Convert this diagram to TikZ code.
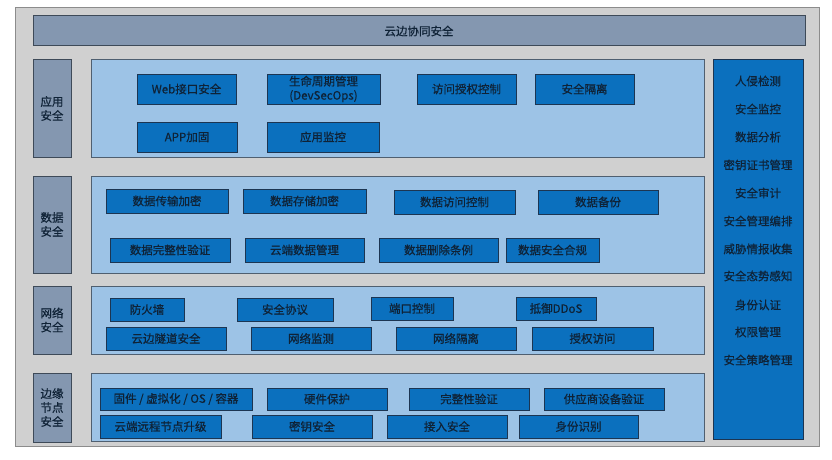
\documentclass[tikz,border=0pt]{standalone}
\usepackage{fontspec}
\setmainfont{Liberation Sans}
\newfontfamily\cjk[FakeBold=0.6]{Noto Sans CJK SC}
\definecolor{outerfill}{HTML}{D0D0D0}
\definecolor{outerdraw}{HTML}{8C8C8C}
\definecolor{slate}{HTML}{8497B0}
\definecolor{slatedraw}{HTML}{3E4A58}
\definecolor{panel}{HTML}{9DC3E6}
\definecolor{paneldraw}{HTML}{4F5F70}
\definecolor{boxfill}{HTML}{0B70BE}
\definecolor{boxdraw}{HTML}{1C3552}
\definecolor{txt}{HTML}{0F2236}
\tikzset{
  base/.style={anchor=north west, inner sep=0pt, outer sep=0pt, align=center, text=txt,
    font=\cjk\fontsize{11.5}{14}\selectfont},
  outerbox/.style={base, fill=outerfill, draw=outerdraw, line width=1pt},
  slatebox/.style={base, fill=slate, draw=slatedraw, line width=1pt},
  panelbox/.style={base, fill=panel, draw=paneldraw, line width=1pt},
  itembox/.style={base, fill=boxfill, draw=boxdraw, line width=1pt},
  sidetext/.style={text=txt, font=\cjk\fontsize{11.5}{14}\selectfont, inner sep=0pt}
}
\newcommand\mybox[7]{\node[#7, minimum width={#4-#2}, minimum height={#5-#3}] (#1) at (#2,#3) {#6};}
\begin{document}
\begin{tikzpicture}[x=1pt,y=-1pt]
\useasboundingbox (0,0) rectangle (832,460);
\fill[white] (0,0) rectangle (832,460);
\mybox{outer}{15}{8}{819}{446}{}{outerbox}
\mybox{title}{33}{16}{805}{46}{云边协同安全}{slatebox}
% left labels
\mybox{lapp}{33}{60}{71}{157}{应用\\安全}{slatebox}
\mybox{ldata}{33}{176}{71}{273}{数据\\安全}{slatebox}
\mybox{lnet}{33}{286}{71}{354}{网络\\安全}{slatebox}
\mybox{ledge}{33}{373}{71}{442}{边缘\\节点\\安全}{slatebox}
% panels
\mybox{papp}{91}{60}{704}{157}{}{panelbox}
\mybox{pdata}{91}{176}{704}{273}{}{panelbox}
\mybox{pnet}{91}{286}{704}{354}{}{panelbox}
\mybox{pedge}{91}{373}{704}{441}{}{panelbox}
% right column
\mybox{right}{713}{60}{803}{439}{}{itembox}
% app
\mybox{a1}{137}{74}{236}{104}{Web接口安全}{itembox}
\mybox{a2}{267}{74}{380}{104}{生命周期管理\\(DevSecOps)}{itembox}
\mybox{a3}{417}{74}{516}{104}{访问授权控制}{itembox}
\mybox{a4}{535}{74}{634}{104}{安全隔离}{itembox}
\mybox{a5}{137}{122}{237}{152}{APP加固}{itembox}
\mybox{a6}{267}{122}{379}{152}{应用监控}{itembox}
% data
\mybox{d1}{106}{189}{228}{213}{数据传输加密}{itembox}
\mybox{d2}{243}{189}{366}{213}{数据存储加密}{itembox}
\mybox{d3}{394}{190}{515}{214}{数据访问控制}{itembox}
\mybox{d4}{538}{190}{658}{214}{数据备份}{itembox}
\mybox{d5}{110}{238}{230}{262}{数据完整性验证}{itembox}
\mybox{d6}{245}{238}{364}{262}{云端数据管理}{itembox}
\mybox{d7}{379}{238}{498}{262}{数据删除条例}{itembox}
\mybox{d8}{506}{238}{599}{262}{数据安全合规}{itembox}
% network
\mybox{n1}{110}{298}{184}{321}{防火墙}{itembox}
\mybox{n2}{237}{298}{333}{321}{安全协议}{itembox}
\mybox{n3}{371}{297}{453}{320}{端口控制}{itembox}
\mybox{n4}{516}{297}{596}{320}{抵御DDoS}{itembox}
\mybox{n5}{106}{327}{226}{350}{云边隧道安全}{itembox}
\mybox{n6}{251}{327}{371}{350}{网络监测}{itembox}
\mybox{n7}{396}{327}{516}{350}{网络隔离}{itembox}
\mybox{n8}{532}{327}{653}{350}{授权访问}{itembox}
% edge
\mybox{e1}{100}{388}{252}{410}{固件 / 虚拟化 / OS / 容器}{itembox}
\mybox{e2}{267}{388}{387}{410}{硬件保护}{itembox}
\mybox{e3}{409}{388}{529}{410}{完整性验证}{itembox}
\mybox{e4}{544}{388}{664}{410}{供应商设备验证}{itembox}
\mybox{e5}{100}{415}{221}{438}{云端远程节点升级}{itembox}
\mybox{e6}{252}{415}{372}{438}{密钥安全}{itembox}
\mybox{e7}{387}{415}{507}{438}{接入安全}{itembox}
\mybox{e8}{519}{415}{638}{438}{身份识别}{itembox}
% right column texts
\node[sidetext] (r1) at (758,81) {人侵检测};
\node[sidetext] (r2) at (758,109) {安全监控};
\node[sidetext] (r3) at (758,137) {数据分析};
\node[sidetext] (r4) at (758,165) {密钥证书管理};
\node[sidetext] (r5) at (758,193) {安全审计};
\node[sidetext] (r6) at (758,221) {安全管理编排};
\node[sidetext] (r7) at (758,249) {威胁情报收集};
\node[sidetext] (r8) at (758,276) {安全态势感知};
\node[sidetext] (r9) at (758,305) {身份认证};
\node[sidetext] (r10) at (758,332) {权限管理};
\node[sidetext] (r11) at (758,360) {安全策略管理};
\end{tikzpicture}
\end{document}
